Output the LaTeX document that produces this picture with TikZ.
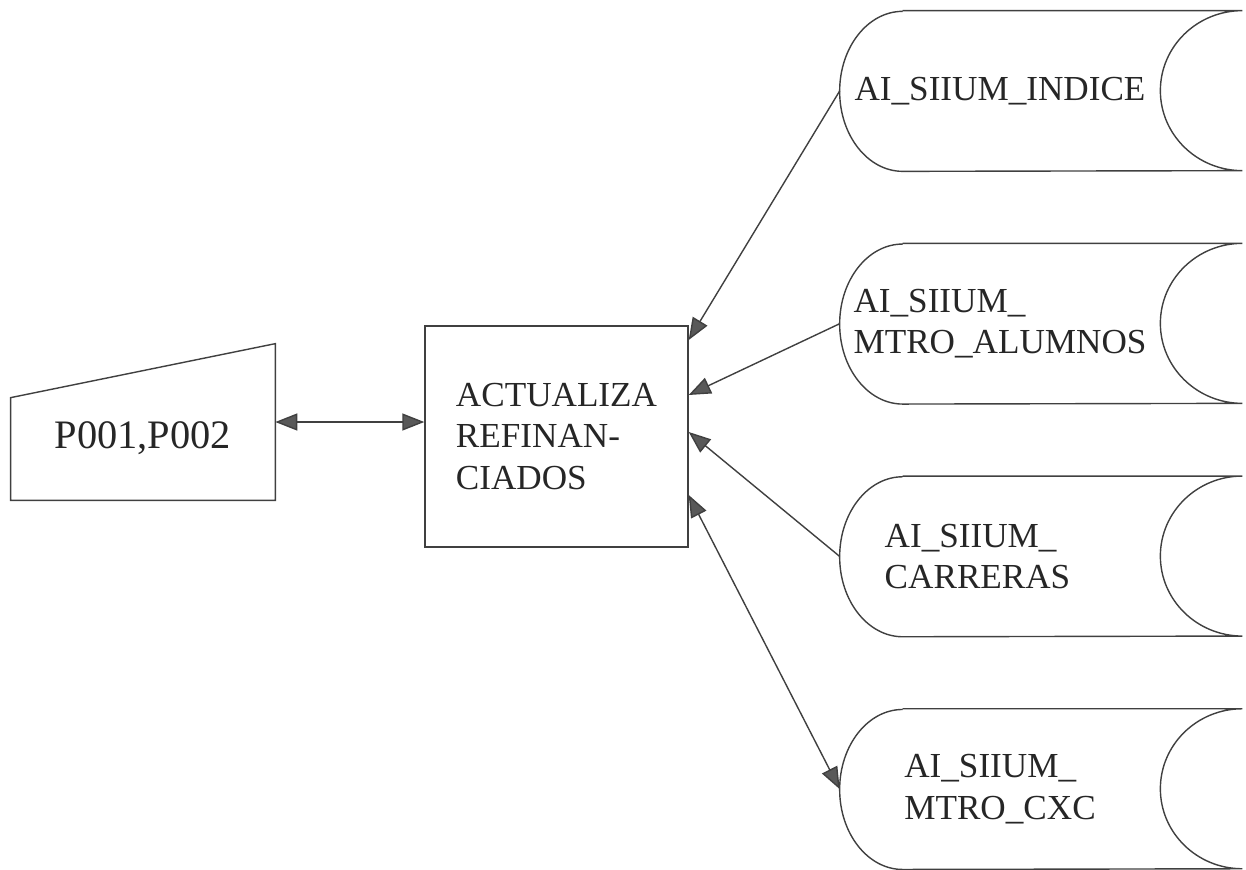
\documentclass[tikz,border=0pt]{standalone}
\usepackage{fontspec}
\setmainfont{Liberation Serif}
\usetikzlibrary{arrows.meta,positioning}

\begin{document}
\begin{tikzpicture}[
        node distance=1.44cm and 2.98cm,
        >={Triangle[length=0.44cm,width=0.34cm,fill=black!65]},
        every node/.style={align=left, text=black!85, font=\fontsize{20pt}{23.5pt}\selectfont},
        line/.style={draw=black!75, line width=0.8pt},
        procbox/.style={line, minimum width=5.26cm, minimum height=4.42cm},
        manual/.style={minimum width=5.28cm, minimum height=3.12cm, text height=30pt, text depth=0pt,
            font=\fontsize{23pt}{26pt}\selectfont},
        store/.style={minimum width=6.4cm, minimum height=3.2cm, inner sep=0pt}
    ]
    \useasboundingbox (0,0) rectangle (24.92,-17.38);

    % Nodes
    \node (box)[procbox] at (11.13,-8.73) {ACTUALIZA \\ REFINAN- \\ CIADOS};

    \node (in)[manual, left=of box, yshift=0.29cm] {P001,P002};

    \node (db1)[store] at (20.0,-1.82) {AI\_SIIUM\_INDICE};
    \node (db2)[store, below=of db1] {AI\_SIIUM\_ \\ MTRO\_ALUMNOS};
    \node (db3)[store, below=of db2] {AI\_SIIUM\_ \\ CARRERAS\hspace*{0.9cm}};
    \node (db4)[store, below=of db3] {AI\_SIIUM\_ \\ MTRO\_CXC};

    % Outlines
    \draw[line] (in.south west) -- (in.south east) -- (in.north east)
        -- ([yshift=-1.08cm]in.north west) -- cycle;

    \foreach \db in {db1,db2,db3,db4}
        \draw[line] ([xshift=1.26cm]\db.north west) -- ([xshift=1.64cm]\db.north east)
            arc[start angle=90, end angle=270, x radius=1.64cm, y radius=1.6cm]
            -- ([xshift=1.26cm]\db.south west)
            arc[start angle=270, end angle=90, x radius=1.26cm, y radius=1.6cm];

    % Edges
    \draw[line, <->] (in.east) -- (in.east -| box.west);

    \draw[line, ->] (db1.west) -- ([yshift=1.93cm]box.east);
    \draw[line, ->] (db2.west) -- ([yshift=0.83cm]box.east);
    \draw[line, ->] (db3.west) -- ([yshift=0.09cm]box.east);
    \draw[line, <->] ([yshift=-1.17cm]box.east) -- (db4.west);

\end{tikzpicture}
\end{document}
